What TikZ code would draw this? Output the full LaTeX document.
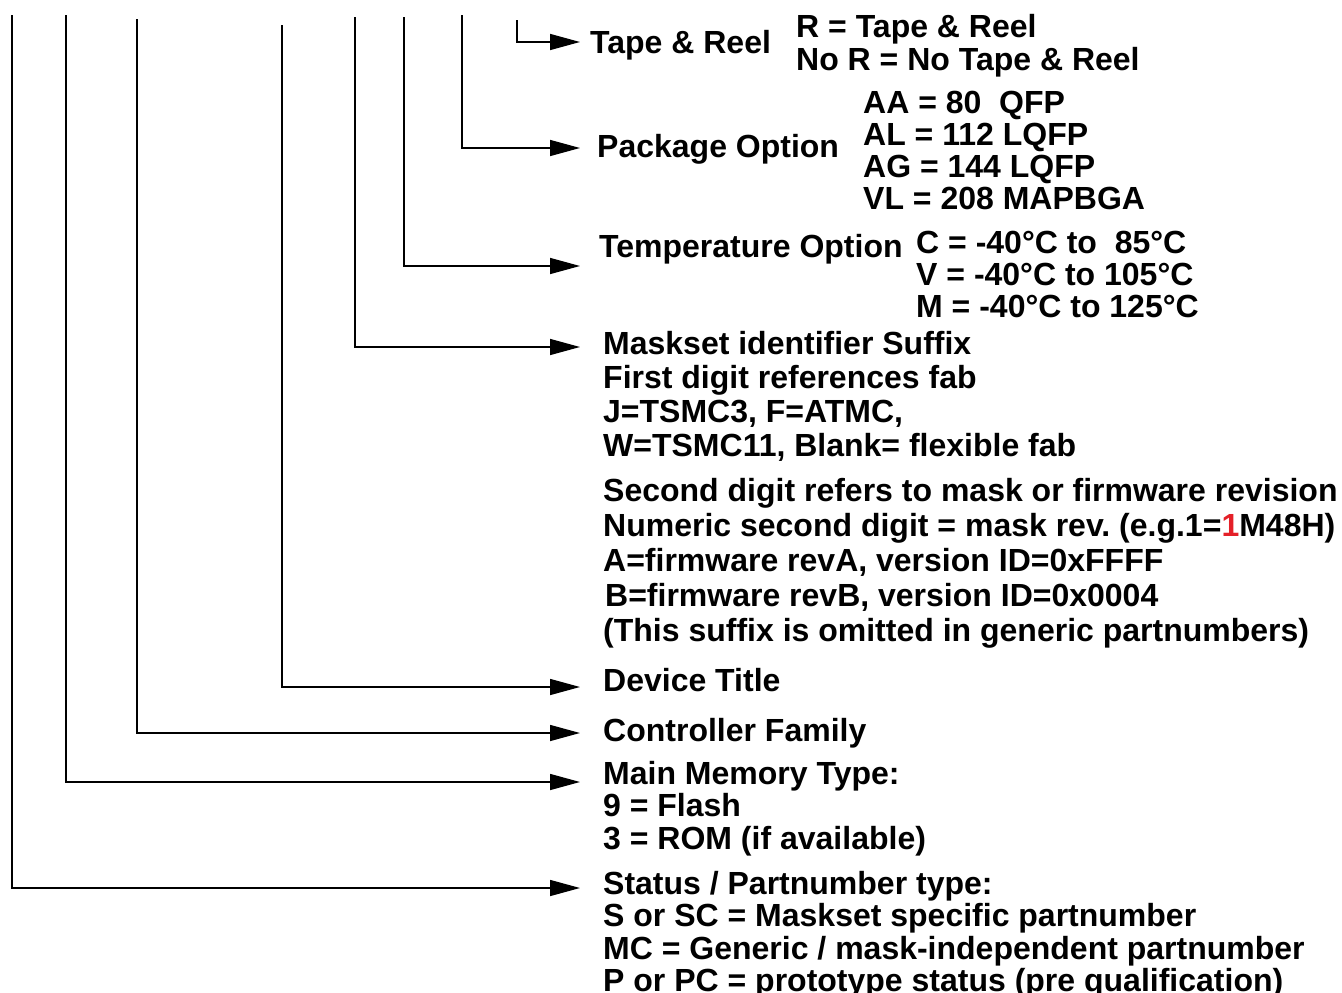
\documentclass[tikz,border=0pt]{standalone}
\usepackage{fontspec}
\setmainfont{Liberation Sans}
\usetikzlibrary{arrows.meta}
\definecolor{hlred}{RGB}{228,32,40}
\tikzset{
  blk/.style={anchor=base west, inner sep=0pt, font=\fontsize{32}{#1}\selectfont\bfseries},
  blk/.default=32,
  conn/.style={line width=1.5pt, -{Triangle[length=30pt,width=16pt]}},
}
\newcommand{\lines}[1]{\begin{tabular}[t]{@{}l@{}}#1\end{tabular}}
\begin{document}
\begin{tikzpicture}[x=1pt,y=-1pt]
\useasboundingbox (0,0) rectangle (1342,993);
% text blocks
\node[blk] (tr) at (590,53) {Tape \& Reel};
\node[blk=33] (trv) at (796,37) {\lines{R = Tape \& Reel\\No R = No Tape \& Reel}};
\node[blk] (po) at (597,157) {Package Option};
\node[blk=32] (pov) at (863,113) {\lines{AA = 80\ \ QFP\\AL = 112 LQFP\\AG = 144 LQFP\\VL = 208 MAPBGA}};
\node[blk] (to) at (599,257) {Temperature Option};
\node[blk=32] (tov) at (916,253) {\lines{C = -40°C to\ \ 85°C\\V = -40°C to 105°C\\M = -40°C to 125°C}};
\node[blk=34] (ms) at (603,354) {\lines{Maskset identifier Suffix\\First digit references fab\\J=TSMC3, F=ATMC,\\W=TSMC11, Blank= flexible fab}};
\node[blk=35] (sd) at (603,501) {\lines{Second digit refers to mask or firmware revision\\Numeric second digit = mask rev.\ (e.g.1=\textcolor{hlred}{1}M48H)\\A=firmware revA, version ID=0xFFFF\\\hspace{2pt}B=firmware revB, version ID=0x0004\\(This suffix is omitted in generic partnumbers)}};
\node[blk] (dt) at (603,691) {Device Title};
\node[blk] (cf) at (603,741) {Controller Family};
\node[blk=31.5] (mm) at (603,784) {\lines{Main Memory Type:\\9 = Flash\\3 = ROM (if available)}};
\node[blk=31.5] (st) at (603,894) {\lines{Status / Partnumber type:\\S or SC = Maskset specific partnumber\\MC = Generic / mask-independent partnumber\\P or PC = prototype status (pre qualification)}};
% connector start points
\coordinate (s1) at (12,15);
\coordinate (s2) at (66,15);
\coordinate (s3) at (137,19);
\coordinate (s4) at (282,25);
\coordinate (s5) at (355,17);
\coordinate (s6) at (404,17);
\coordinate (s7) at (462,15);
\coordinate (s8) at (517,20);
% connector end points
\coordinate (e1) at (580,888);
\coordinate (e2) at (580,782);
\coordinate (e3) at (580,733);
\coordinate (e4) at (580,687);
\coordinate (e5) at (580,347);
\coordinate (e6) at (580,266);
\coordinate (e7) at (580,148);
\coordinate (e8) at (580,42);
\draw[conn] (s1) |- (e1);
\draw[conn] (s2) |- (e2);
\draw[conn] (s3) |- (e3);
\draw[conn] (s4) |- (e4);
\draw[conn] (s5) |- (e5);
\draw[conn] (s6) |- (e6);
\draw[conn] (s7) |- (e7);
\draw[conn] (s8) |- (e8);
\end{tikzpicture}
\end{document}
